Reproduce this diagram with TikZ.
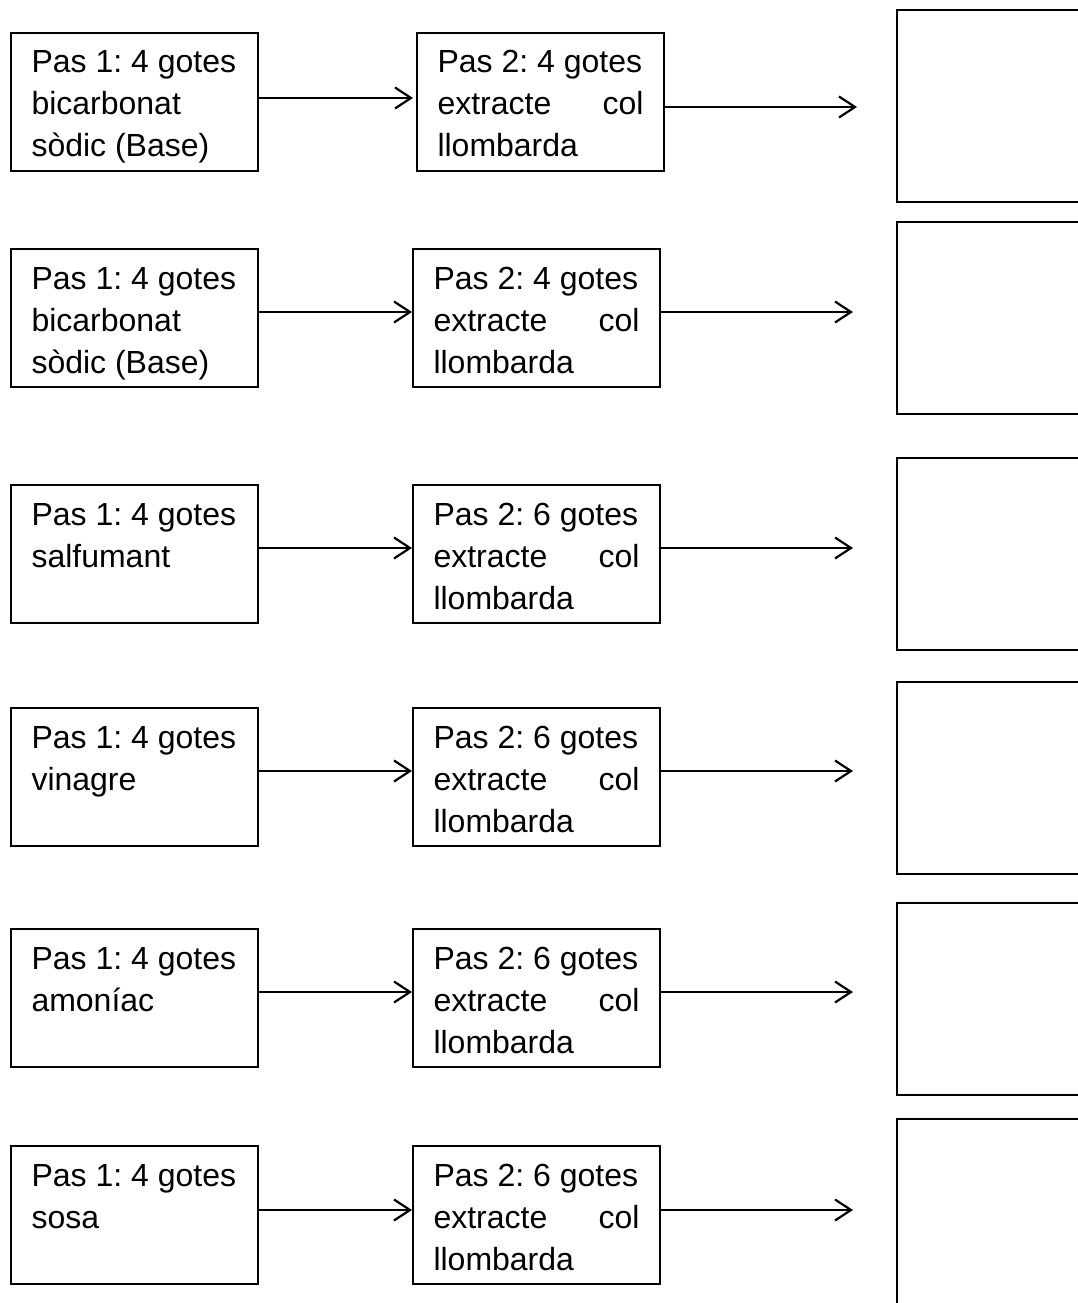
\documentclass[tikz,border=0pt]{standalone}
\usepackage{fontspec}
\setmainfont{Liberation Sans}
\usetikzlibrary{arrows.meta}
\newcommand{\bxt}[1]{\parbox[c][138pt][t]{206pt}{\fontsize{32pt}{42pt}\selectfont\frenchspacing\rule{0pt}{40pt}#1}}
\begin{document}
\begin{tikzpicture}[x=1pt,y=-1pt,
  box/.style={draw, line width=2pt, inner sep=0pt, anchor=north west,
    minimum height=138pt, minimum width=247pt},
  resbox/.style={draw, line width=2pt, inner sep=0pt, anchor=north west,
    minimum width=240pt, minimum height=192pt},
  arr/.style={line width=2.2pt, -{Straight Barb[length=16pt,width=21pt,line width=2.2pt]}}]
\useasboundingbox (0,0) rectangle (1078,1303);
\clip (0,0) rectangle (1078,1303);
\fill[white] (0,0) rectangle (1078,1303);

% row 1
\node[box] (a1) at (10,32) {\bxt{Pas 1: 4 gotes\\bicarbonat\\sòdic (Base)}};
\node[box] (b1) at (416,32) {\bxt{Pas 2: 4 gotes\\extracte\hfill col\\llombarda}};
\node[resbox] (r1) at (896,9) {};
\coordinate (e1) at (857,107);
\draw[arr, shorten >=3pt] (a1.east |- 0,98) -- (b1.west |- 0,98);
\draw[arr] (b1.east |- e1) -- (e1);

% row 2
\node[box] (a2) at (10,248) {\bxt{Pas 1: 4 gotes\\bicarbonat\\sòdic (Base)}};
\node[box] (b2) at (412,248) {\bxt{Pas 2: 4 gotes\\extracte\hfill col\\llombarda}};
\node[resbox] (r2) at (896,221) {};
\coordinate (e2) at (853,312);
\draw[arr] (a2.east |- e2) -- (b2.west |- e2);
\draw[arr] (b2.east |- e2) -- (e2);

% row 3
\node[box] (a3) at (10,484) {\bxt{Pas 1: 4 gotes\\salfumant}};
\node[box] (b3) at (412,484) {\bxt{Pas 2: 6 gotes\\extracte\hfill col\\llombarda}};
\node[resbox] (r3) at (896,457) {};
\coordinate (e3) at (853,548);
\draw[arr] (a3.east |- e3) -- (b3.west |- e3);
\draw[arr] (b3.east |- e3) -- (e3);

% row 4
\node[box] (a4) at (10,707) {\bxt{Pas 1: 4 gotes\\vinagre}};
\node[box] (b4) at (412,707) {\bxt{Pas 2: 6 gotes\\extracte\hfill col\\llombarda}};
\node[resbox] (r4) at (896,681) {};
\coordinate (e4) at (853,771);
\draw[arr] (a4.east |- e4) -- (b4.west |- e4);
\draw[arr] (b4.east |- e4) -- (e4);

% row 5
\node[box] (a5) at (10,928) {\bxt{Pas 1: 4 gotes\\amoníac}};
\node[box] (b5) at (412,928) {\bxt{Pas 2: 6 gotes\\extracte\hfill col\\llombarda}};
\node[resbox] (r5) at (896,902) {};
\coordinate (e5) at (853,992);
\draw[arr] (a5.east |- e5) -- (b5.west |- e5);
\draw[arr] (b5.east |- e5) -- (e5);

% row 6
\node[box] (a6) at (10,1145) {\bxt{Pas 1: 4 gotes\\sosa}};
\node[box] (b6) at (412,1145) {\bxt{Pas 2: 6 gotes\\extracte\hfill col\\llombarda}};
\node[resbox] (r6) at (896,1118) {};
\coordinate (e6) at (853,1210);
\draw[arr] (a6.east |- e6) -- (b6.west |- e6);
\draw[arr] (b6.east |- e6) -- (e6);
\end{tikzpicture}
\end{document}
